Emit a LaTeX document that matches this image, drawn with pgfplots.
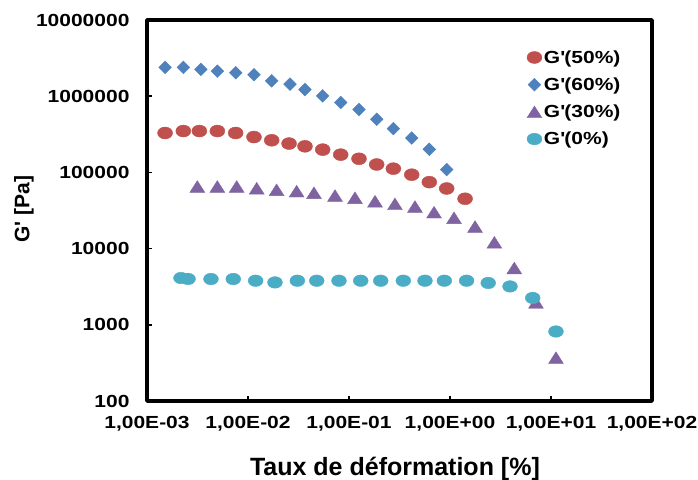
\documentclass[border=0pt]{standalone}
\usepackage{pgfplots}
\pgfplotsset{compat=1.18}
\usepackage{fontspec}
\setmainfont{Liberation Sans}
\newfontfamily\tickfont[FakeStretch=1.2]{Liberation Sans}
\definecolor{cRed}{HTML}{C0504D}
\definecolor{cBlue}{HTML}{4F81BD}
\definecolor{cPurple}{HTML}{8064A2}
\definecolor{cCyan}{HTML}{4BACC6}
\begin{document}
\begin{tikzpicture}
\begin{axis}[
  scale only axis, width=505pt, height=381pt,
  xmode=log, ymode=log,
  xmin=1e-3, xmax=1e2, ymin=1e2, ymax=1e7,
  xtick={1e-3,1e-2,1e-1,1,1e1,1e2},
  xticklabels={{1,00E-03},{1,00E-02},{1,00E-01},{1,00E+00},{1,00E+01},{1,00E+02}},
  ytick={1e2,1e3,1e4,1e5,1e6,1e7},
  yticklabels={100,1000,10000,100000,1000000,10000000},
  xminorticks=false, yminorticks=false,
  tick align=inside, xtick pos=left, ytick pos=left,
  major tick length=5pt,
  tick style={line width=1.5pt, black},
  axis line style={line width=3.5pt, line join=round},
  ticklabel style={font=\tickfont\bfseries\fontsize{17.5}{20}\selectfont},
  xticklabel style={yshift=-12pt},
  yticklabel style={xshift=-14pt},
  xlabel={Taux de déformation [\%]},
  xlabel style={font=\bfseries\fontsize{25}{30}\selectfont, at={(axis description cs:0.491,0)}, anchor=base, yshift=-74pt},
  ylabel={G\textquotesingle\ [Pa]},
  ylabel style={font=\bfseries\fontsize{21}{25}\selectfont, at={(axis description cs:-0.2436,0.504)}, anchor=center},
  legend style={at={(rel axis cs:0.752,0.926)}, anchor=north west, draw=none, fill=none,
    font=\tickfont\bfseries\fontsize{17.5}{20}\selectfont, row sep=9pt, inner sep=0pt},
  legend cell align=left,
]
\addplot[only marks, mark=*, color=cRed, mark options={xscale=1.25}, mark size=6pt] coordinates {
(1.51e-3,3.29e5) (2.29e-3,3.49e5) (3.30e-3,3.49e5) (4.97e-3,3.49e5) (7.55e-3,3.29e5)
(0.01146,2.91e5) (0.01717,2.64e5) (0.0255,2.39e5) (0.03666,2.20e5) (0.0549,1.99e5)
(0.0828,1.71e5) (0.1256,1.51e5) (0.188,1.27e5) (0.275,1.12e5) (0.418,9.33e4)
(0.624,7.45e4) (0.927,6.15e4) (1.41,4.51e4)
};
\addlegendentry{G\textquotesingle(50\%)}
\addplot[only marks, mark=square*, color=cBlue, mark options={rotate=45}, mark size=4.5pt] coordinates {
(1.51e-3,2.39e6) (2.29e-3,2.39e6) (3.42e-3,2.25e6) (4.97e-3,2.13e6) (7.55e-3,2.03e6)
(0.01146,1.91e6) (0.01717,1.59e6) (0.02606,1.44e6) (0.03666,1.22e6) (0.0549,1.01e6)
(0.0828,8.26e5) (0.1256,6.68e5) (0.188,4.98e5) (0.275,3.76e5) (0.418,2.83e5)
(0.624,2.01e5) (0.927,1.09e5)
};
\addlegendentry{G\textquotesingle(60\%)}
\addplot[only marks, mark=triangle*, color=cPurple, mark options={xscale=1.1, yshift=-2pt}, mark size=7.8pt] coordinates {
(3.15e-3,6.54e4) (4.97e-3,6.54e4) (7.73e-3,6.54e4) (0.0122,6.21e4) (0.0192,5.92e4)
(0.0303,5.68e4) (0.045,5.41e4) (0.0727,4.98e4) (0.1146,4.65e4) (0.181,4.19e4)
(0.285,3.87e4) (0.450,3.57e4) (0.695,3.01e4) (1.096,2.54e4) (1.77,1.95e4)
(2.75,1.21e4) (4.33,5.57e3) (7.10,1.97e3) (11.2,371)
};
\addlegendentry{G\textquotesingle(30\%)}
\addplot[only marks, mark=*, color=cCyan, mark options={xscale=1.28}, mark size=5.8pt] coordinates {
(2.17e-3,4.11e3) (2.55e-3,4.0e3) (4.30e-3,3.99e3) (7.15e-3,3.99e3) (0.0119,3.79e3)
(0.0185,3.60e3) (0.0308,3.79e3) (0.0479,3.79e3) (0.0796,3.79e3) (0.1306,3.79e3)
(0.206,3.79e3) (0.345,3.79e3) (0.565,3.79e3) (0.879,3.79e3) (1.46,3.79e3)
(2.39,3.54e3) (3.93,3.19e3) (6.59,2.25e3) (11.2,817)
};
\addlegendentry{G\textquotesingle(0\%)}
\end{axis}
\pgfresetboundingbox
\path (current axis.south west) ++(-147pt,-78pt) rectangle ++(698pt,479pt);
\end{tikzpicture}
\end{document}
